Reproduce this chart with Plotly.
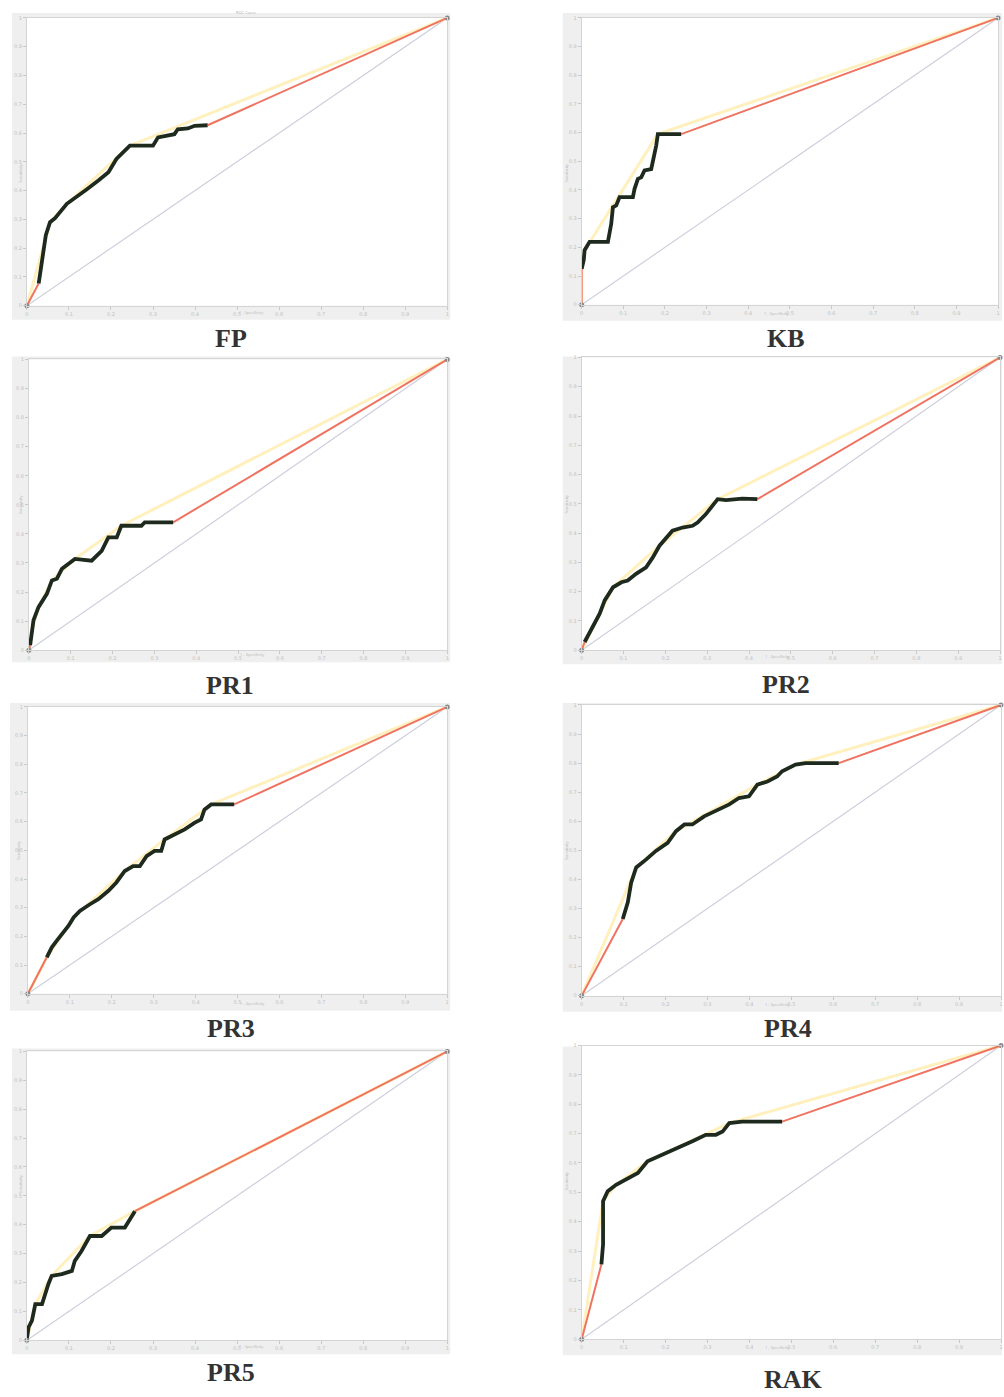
import plotly.graph_objects as go

W, H = 1004, 1397

# ---------------- data ----------------
panel_names = ["FP", "KB", "PR1", "PR2", "PR3", "PR4", "PR5", "RAK"]

fp_x = [0.028, 0.040, 0.045, 0.055, 0.067, 0.095, 0.122, 0.142, 0.170, 0.194, 0.213, 0.245, 0.268, 0.300, 0.312, 0.351, 0.359, 0.383, 0.399, 0.430]
fp_y = [0.077, 0.198, 0.245, 0.290, 0.304, 0.354, 0.385, 0.404, 0.435, 0.464, 0.510, 0.556, 0.556, 0.556, 0.585, 0.596, 0.613, 0.616, 0.625, 0.627]
fp_hull_x = [0.0, 0.055, 0.095, 0.245, 1.0]
fp_hull_y = [0.0, 0.290, 0.354, 0.556, 1.0]

kb_x = [0.0, 0.005, 0.007, 0.019, 0.063, 0.067, 0.071, 0.075, 0.083, 0.091, 0.123, 0.127, 0.135, 0.143, 0.151, 0.167, 0.171, 0.175, 0.179, 0.183, 0.239]
kb_y = [0.125, 0.156, 0.190, 0.219, 0.219, 0.253, 0.282, 0.340, 0.346, 0.375, 0.375, 0.404, 0.439, 0.444, 0.468, 0.473, 0.497, 0.531, 0.555, 0.595, 0.595]
kb_hull_x = [0.0, 0.0, 0.007, 0.183, 1.0]
kb_hull_y = [0.0, 0.125, 0.190, 0.595, 1.0]

pr1_x = [0.003, 0.007, 0.011, 0.023, 0.031, 0.043, 0.055, 0.067, 0.079, 0.110, 0.150, 0.174, 0.190, 0.210, 0.221, 0.269, 0.277, 0.345]
pr1_y = [0.017, 0.068, 0.103, 0.148, 0.165, 0.194, 0.240, 0.246, 0.280, 0.314, 0.308, 0.342, 0.388, 0.388, 0.428, 0.428, 0.440, 0.440]
pr1_hull_x = [0.0, 0.007, 0.023, 0.055, 0.110, 0.221, 1.0]
pr1_hull_y = [0.0, 0.068, 0.148, 0.240, 0.314, 0.428, 1.0]

pr2_x = [0.007, 0.027, 0.043, 0.055, 0.075, 0.095, 0.110, 0.130, 0.154, 0.170, 0.186, 0.217, 0.241, 0.265, 0.277, 0.297, 0.325, 0.345, 0.384, 0.420]
pr2_y = [0.028, 0.079, 0.125, 0.170, 0.215, 0.232, 0.238, 0.261, 0.283, 0.317, 0.357, 0.408, 0.419, 0.425, 0.436, 0.465, 0.516, 0.513, 0.518, 0.516]
pr2_hull_x = [0.0, 0.075, 0.186, 0.325, 1.0]
pr2_hull_y = [0.0, 0.215, 0.357, 0.516, 1.0]

pr3_x = [0.045, 0.057, 0.069, 0.085, 0.097, 0.109, 0.124, 0.148, 0.168, 0.192, 0.211, 0.231, 0.251, 0.267, 0.283, 0.302, 0.318, 0.326, 0.350, 0.374, 0.397, 0.413, 0.421, 0.437, 0.461, 0.492]
pr3_y = [0.127, 0.162, 0.185, 0.215, 0.237, 0.266, 0.289, 0.312, 0.330, 0.359, 0.388, 0.428, 0.445, 0.445, 0.480, 0.498, 0.498, 0.538, 0.556, 0.573, 0.596, 0.608, 0.642, 0.660, 0.660, 0.660]
pr3_hull_x = [0.0, 0.045, 0.109, 0.231, 0.326, 0.437, 1.0]
pr3_hull_y = [0.0, 0.127, 0.266, 0.428, 0.538, 0.660, 1.0]

pr4_x = [0.098, 0.110, 0.118, 0.130, 0.154, 0.177, 0.205, 0.225, 0.245, 0.264, 0.292, 0.320, 0.352, 0.375, 0.399, 0.419, 0.443, 0.466, 0.478, 0.510, 0.534, 0.613]
pr4_y = [0.264, 0.321, 0.389, 0.441, 0.469, 0.498, 0.526, 0.566, 0.589, 0.589, 0.617, 0.635, 0.658, 0.680, 0.686, 0.726, 0.737, 0.754, 0.772, 0.795, 0.800, 0.800]
pr4_hull_x = [0.0, 0.130, 0.225, 0.419, 0.510, 1.0]
pr4_hull_y = [0.0, 0.441, 0.566, 0.726, 0.795, 1.0]

pr5_x = [0.000, 0.004, 0.012, 0.016, 0.020, 0.036, 0.043, 0.051, 0.059, 0.083, 0.107, 0.114, 0.130, 0.150, 0.178, 0.201, 0.233, 0.245, 0.257]
pr5_y = [0.004, 0.045, 0.068, 0.091, 0.125, 0.125, 0.160, 0.194, 0.223, 0.229, 0.240, 0.275, 0.309, 0.361, 0.361, 0.390, 0.390, 0.418, 0.447]
pr5_hull_x = [0.0, 0.020, 0.059, 0.150, 0.257, 1.0]
pr5_hull_y = [0.0, 0.125, 0.223, 0.361, 0.447, 1.0]

rak_x = [0.047, 0.051, 0.051, 0.062, 0.082, 0.106, 0.134, 0.157, 0.193, 0.225, 0.264, 0.296, 0.320, 0.336, 0.352, 0.383, 0.478]
rak_y = [0.255, 0.323, 0.470, 0.504, 0.526, 0.543, 0.566, 0.606, 0.628, 0.651, 0.674, 0.696, 0.696, 0.707, 0.736, 0.741, 0.741]
rak_hull_x = [0.0, 0.051, 0.082, 0.157, 0.352, 1.0]
rak_hull_y = [0.0, 0.470, 0.526, 0.606, 0.736, 1.0]

curves_x = [fp_x, kb_x, pr1_x, pr2_x, pr3_x, pr4_x, pr5_x, rak_x]
curves_y = [fp_y, kb_y, pr1_y, pr2_y, pr3_y, pr4_y, pr5_y, rak_y]
hulls_x = [fp_hull_x, kb_hull_x, pr1_hull_x, pr2_hull_x, pr3_hull_x, pr4_hull_x, pr5_hull_x, rak_hull_x]
hulls_y = [fp_hull_y, kb_hull_y, pr1_hull_y, pr2_hull_y, pr3_hull_y, pr4_hull_y, pr5_hull_y, rak_hull_y]

tick_vals = [0.0, 0.1, 0.2, 0.3, 0.4, 0.5, 0.6, 0.7, 0.8, 0.9, 1.0]
tick_text = ["0", "0.1", "0.2", "0.3", "0.4", "0.5", "0.6", "0.7", "0.8", "0.9", "1"]

# ---------------- layout geometry (pixels) ----------------
# plot area boxes: (left, right, top, bottom)
plot_boxes = [
    (25, 447, 15, 304), (582, 1000, 15, 303),
    (27, 447, 358, 650), (582, 1002, 356, 650),
    (26, 447, 707, 995), (582, 1003, 705, 997),
    (25, 447, 1053, 1343), (582, 1003, 1047, 1342),
]
outer_boxes = [
    (10, 450, 10, 318), (563, 1004, 10, 319),
    (10, 450, 355, 662), (563, 1004, 355, 664),
    (8, 450, 703, 1012), (563, 1004, 703, 1013),
    (10, 450, 1050, 1357), (563, 1004, 1048, 1358),
]
label_pos = [
    (230, 337), (787, 337),
    (229, 685), (787, 684),
    (230, 1030), (789, 1030),
    (230, 1375), (795, 1382),
]

def px(x):
    return x / W

def py(y):
    return 1 - y / H

fig = go.Figure()
shapes = []
annotations = []

RED = "#ef7360"
YEL = "#fff0bd"
DIAG = "#cdd0dc"
BLK = "#1e2a1e"

for i, name in enumerate(panel_names):
    xa = "x" if i == 0 else f"x{i+1}"
    ya = "y" if i == 0 else f"y{i+1}"
    cx, cy = curves_x[i], curves_y[i]
    # diagonal chance line
    fig.add_trace(go.Scatter(x=[0, 1], y=[0, 1], mode="lines", line=dict(color=DIAG, width=1.2),
                             xaxis=xa, yaxis=ya, showlegend=False, hoverinfo="skip"))
    # convex hull (pale yellow)
    fig.add_trace(go.Scatter(x=hulls_x[i], y=hulls_y[i], mode="lines", line=dict(color=YEL, width=3),
                             xaxis=xa, yaxis=ya, showlegend=False, hoverinfo="skip"))
    # red connectors
    fig.add_trace(go.Scatter(x=[0, cx[0], None, cx[-1], 1], y=[0, cy[0], None, cy[-1], 1], mode="lines",
                             line=dict(color=RED, width=2), connectgaps=False,
                             xaxis=xa, yaxis=ya, showlegend=False, hoverinfo="skip"))
    # empirical curve
    fig.add_trace(go.Scatter(x=cx, y=cy, mode="lines", line=dict(color=BLK, width=3.8),
                             xaxis=xa, yaxis=ya, showlegend=False, hoverinfo="skip"))
    # end markers
    fig.add_trace(go.Scatter(x=[0, 1], y=[0, 1], mode="markers", marker=dict(color="#8a8a8a", size=5),
                             xaxis=xa, yaxis=ya, showlegend=False, hoverinfo="skip", cliponaxis=False))

    l, r, t, b = plot_boxes[i]
    ol, orr, ot, ob = outer_boxes[i]
    axis_common = dict(range=[0, 1], showgrid=False, zeroline=False, showline=True, mirror=True,
                       linecolor="#d4d4d4", linewidth=1, ticks="outside", ticklen=3, tickcolor="#c8c8c8",
                       tickvals=tick_vals, ticktext=tick_text,
                       tickfont=dict(size=5, color="#c0c0c0", family="DejaVu Sans"), fixedrange=True)
    fig.update_layout(**{
        ("xaxis" if i == 0 else f"xaxis{i+1}"): dict(domain=[px(l), px(r)], anchor=ya, **axis_common),
        ("yaxis" if i == 0 else f"yaxis{i+1}"): dict(domain=[py(b), py(t)], anchor=xa, **axis_common),
    })
    # grey frame + white plot area
    shapes.append(dict(type="rect", xref="paper", yref="paper", x0=px(ol), x1=px(orr), y0=py(ob), y1=py(ot),
                       fillcolor="#efefef", line=dict(width=0), layer="below"))
    shapes.append(dict(type="rect", xref="paper", yref="paper", x0=px(l), x1=px(r), y0=py(b), y1=py(t),
                       fillcolor="#ffffff", line=dict(width=0), layer="below"))
    # tiny axis titles
    annotations.append(dict(x=px((l + r) / 2), y=py(ob - 3), xref="paper", yref="paper", text="1 - Specificity",
                            showarrow=False, font=dict(size=4, color="#b8b8b8"), yanchor="bottom"))
    annotations.append(dict(x=px(ol + 4), y=py((t + b) / 2), xref="paper", yref="paper", text="Sensitivity",
                            showarrow=False, textangle=-90, font=dict(size=4, color="#b8b8b8")))
    # panel label
    lx, ly = label_pos[i]
    annotations.append(dict(x=px(lx), y=py(ly), xref="paper", yref="paper", text=f"<b>{name}</b>", showarrow=False,
                            font=dict(size=26, color="#333333", family="Liberation Serif"),
                            xanchor="center", yanchor="middle"))

annotations.append(dict(x=px(233), y=py(10), xref="paper", yref="paper", text="ROC Curve", showarrow=False,
                        font=dict(size=4, color="#b0b0b0"), yanchor="middle"))

fig.update_layout(width=W, height=H, margin=dict(l=0, r=0, t=0, b=0), autosize=False,
                  paper_bgcolor="white", plot_bgcolor="rgba(0,0,0,0)",
                  shapes=shapes, annotations=annotations, showlegend=False)

fig.write_html("out.html")
